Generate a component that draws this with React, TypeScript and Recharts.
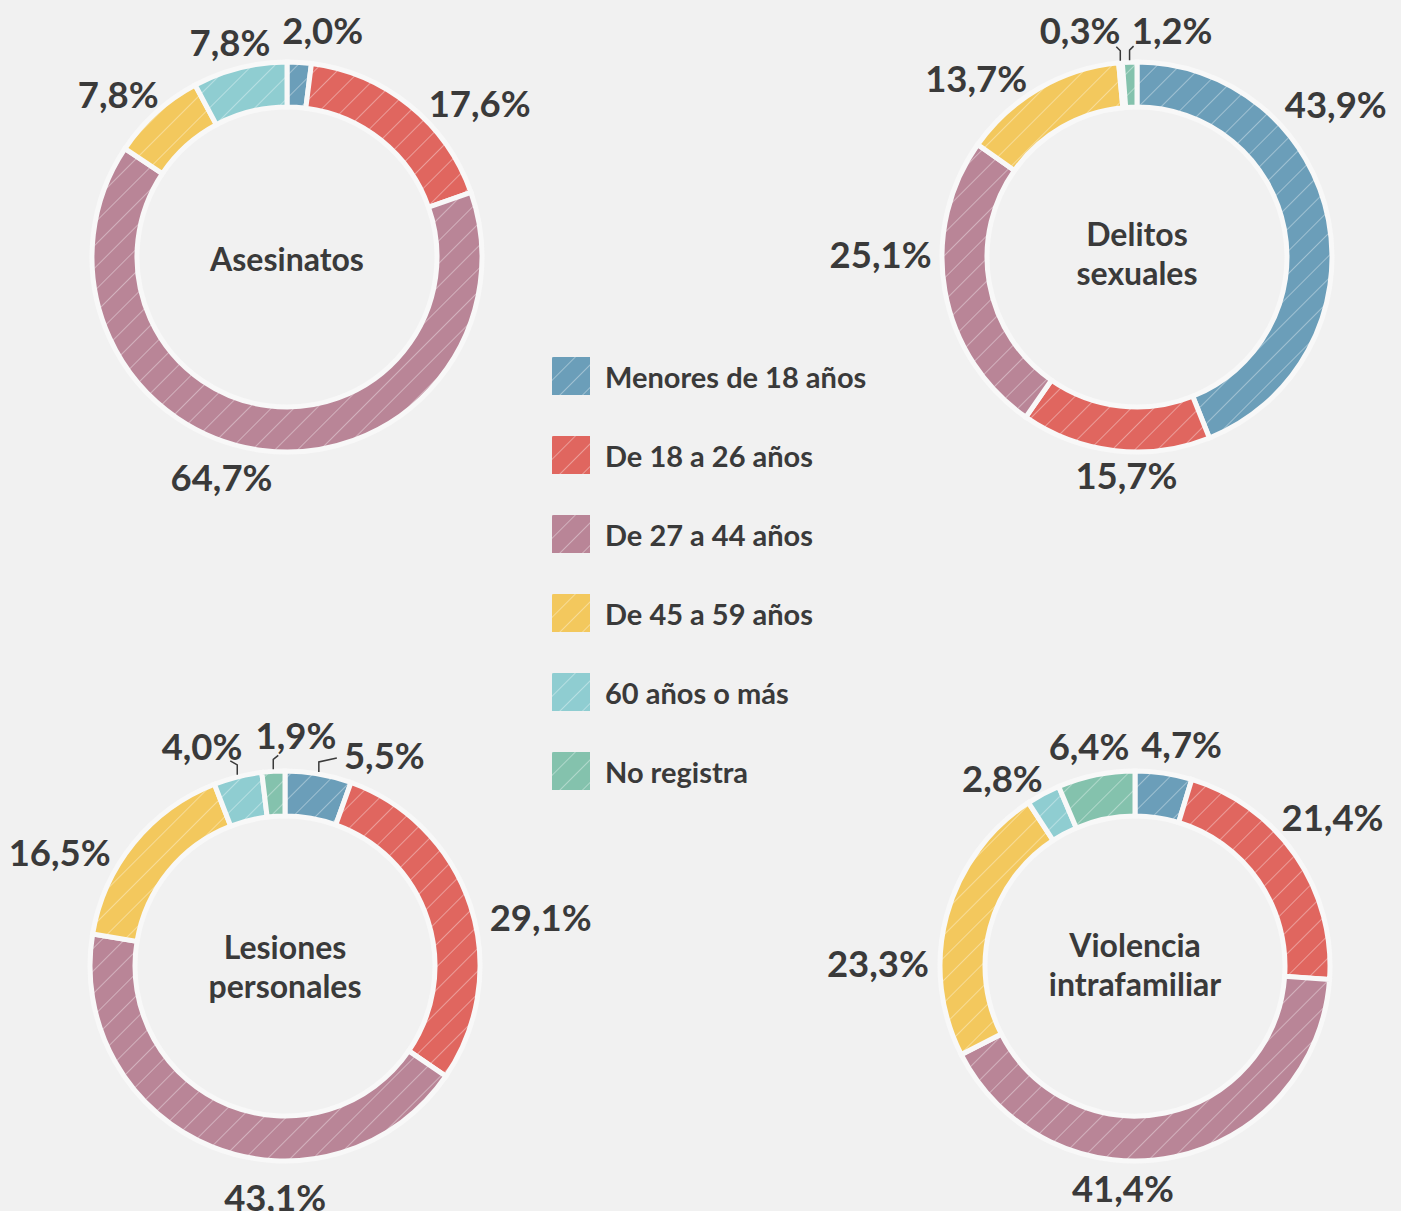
import React from 'react'
import { PieChart, Pie, Cell, Legend } from 'recharts'

const groups = [
  'Menores de 18 años',
  'De 18 a 26 años',
  'De 27 a 44 años',
  'De 45 a 59 años',
  '60 años o más',
  'No registra',
]
const colors = ['#6b9eb9', '#e0665f', '#b98597', '#f3c85d', '#8fcdd1', '#84c2ad']

const asesinatos = [2.0, 17.6, 64.7, 7.8, 7.8, 0]
const delitos = [43.9, 15.7, 25.1, 13.7, 0.3, 1.2]
const lesiones = [5.5, 29.1, 43.1, 16.5, 4.0, 1.9]
const violencia = [4.7, 21.4, 41.4, 23.3, 2.8, 6.4]

const WIDTH = 1401
const HEIGHT = 1211
const INNER = 150
const OUTER = 195
const TEXT = '#3a3a3a'
const FONT = 'Lato, "Open Sans", sans-serif'

// label offsets from the default polar spot, per group index
type Nudge = { dx: number; dy: number; leader?: number }
const panels = [
  {
    title: ['Asesinatos'], values: asesinatos, cx: 287, cy: 257, tcy: 258,
    nudges: [{ dx: 21, dy: 8 }, { dx: 45, dy: 29 }, { dx: -36, dy: -13 }, { dx: -11, dy: 11 }, { dx: 0, dy: 13 }, { dx: 0, dy: 0 }] as Nudge[],
  },
  {
    title: ['Delitos', 'sexuales'], values: delitos, cx: 1137, cy: 257, tcy: 253,
    nudges: [{ dx: -32, dy: -109 }, { dx: 16, dy: -15 }, { dx: -25, dy: -44 }, { dx: -43, dy: 24 }, { dx: -37, dy: 7, leader: -4 }, { dx: 44, dy: 8, leader: 4 }] as Nudge[],
  },
  {
    title: ['Lesiones', 'personales'], values: lesiones, cx: 285, cy: 966, tcy: 966,
    nudges: [{ dx: 59, dy: 21, leader: 18 }, { dx: 32, dy: 23 }, { dx: 78, dy: 13 }, { dx: -43, dy: 34 }, { dx: -26, dy: 8, leader: -7 }, { dx: 25, dy: 4, leader: 5 }] as Nudge[],
  },
  {
    title: ['Violencia', 'intrafamiliar'], values: violencia, cx: 1135, cy: 966, tcy: 964,
    nudges: [{ dx: 12, dy: 10 }, { dx: 4, dy: -16 }, { dx: -59, dy: -8 }, { dx: -30, dy: 58 }, { dx: -22, dy: 19 }, { dx: 1, dy: 10 }] as Nudge[],
  },
]

const fmt = (v: number) => v.toFixed(1).replace('.', ',') + '%'
const RAD = Math.PI / 180

function makeLabel(nudges: Nudge[]) {
  return (props: any) => {
    const { cx, cy, midAngle, outerRadius, payload } = props
    const g = payload.g as number
    const n = nudges[g] || { dx: 0, dy: 0 }
    const cos = Math.cos(-midAngle * RAD)
    const sin = Math.sin(-midAngle * RAD)
    const r = outerRadius + 40
    const x = cx + r * cos + n.dx
    const y = cy + r * sin + n.dy
    let leader = null
    if (n.leader !== undefined) {
      const sx = cx + (outerRadius + 2) * cos
      const sy = cy + (outerRadius + 2) * sin
      leader = (
        <path
          d={`M${sx},${sy} L${sx},${sy - 10} L${sx + n.leader},${sy - 14}`}
          fill="none"
          stroke={TEXT}
          strokeWidth={1.5}
        />
      )
    }
    return (
      <g>
        {leader}
        <text
          x={x}
          y={y}
          textAnchor="middle"
          dominantBaseline="central"
          fill={TEXT}
          fontFamily={FONT}
          fontWeight={700}
          fontSize={36.5}
        >
          {fmt(payload.value)}
        </text>
      </g>
    )
  }
}

function LegendBox() {
  return (
    <div style={{ fontFamily: FONT }}>
      {groups.map((name, i) => (
        <div key={name} style={{ display: 'flex', alignItems: 'center', height: 38, marginBottom: 41 }}>
          <svg width={38} height={38} style={{ display: 'block' }}>
            <rect width={38} height={38} fill={`url(#hatch-${i})`} />
          </svg>
          <span style={{ marginLeft: 15, fontSize: 29, fontWeight: 700, color: TEXT, whiteSpace: 'nowrap' }}>
            {name}
          </span>
        </div>
      ))}
    </div>
  )
}

export default function App() {
  return (
    <div style={{ width: WIDTH, height: HEIGHT, background: '#f1f1f1', position: 'relative' }}>
      <style>{'body{margin:0;background:#f1f1f1;}'}</style>
      <PieChart width={WIDTH} height={HEIGHT} margin={{ top: 0, right: 0, bottom: 0, left: 0 }}>
        <defs>
          {colors.map((c, i) => (
            <pattern
              key={c}
              id={`hatch-${i}`}
              width={16}
              height={16}
              patternUnits="userSpaceOnUse"
              patternTransform="rotate(45)"
            >
              <rect width={16} height={16} fill={c} />
              <line x1={0} y1={0} x2={0} y2={16} stroke="#ffffff" strokeOpacity={0.45} strokeWidth={1.6} />
            </pattern>
          ))}
        </defs>
        {panels.map((p, pi) => {
          const data = p.values
            .map((v, g) => ({ name: groups[g], value: v, g }))
            .filter((d) => d.value > 0)
          return (
            <Pie
              key={pi}
              data={data}
              dataKey="value"
              nameKey="name"
              cx={p.cx}
              cy={p.cy}
              innerRadius={INNER}
              outerRadius={OUTER}
              startAngle={90}
              endAngle={-270}
              isAnimationActive={false}
              label={makeLabel(p.nudges)}
              labelLine={false}
            >
              {data.map((d) => (
                <Cell key={d.g} fill={`url(#hatch-${d.g})`} stroke="#f8f8f8" strokeWidth={5} />
              ))}
            </Pie>
          )
        })}
        {panels.map((p, pi) => {
          const lines = p.title
          const lh = 39
          const top = p.tcy - ((lines.length - 1) * lh) / 2
          return (
            <text
              key={`t${pi}`}
              textAnchor="middle"
              fill={TEXT}
              fontFamily={FONT}
              fontWeight={700}
              fontSize={32}
            >
              {lines.map((l, li) => (
                <tspan key={l} x={p.cx} y={top + li * lh} dominantBaseline="central">
                  {l}
                </tspan>
              ))}
            </text>
          )
        })}
        <Legend
          content={() => <LegendBox />}
          wrapperStyle={{ position: 'absolute', left: 552, top: 357, width: 'auto', height: 'auto' }}
        />
      </PieChart>
    </div>
  )
}
